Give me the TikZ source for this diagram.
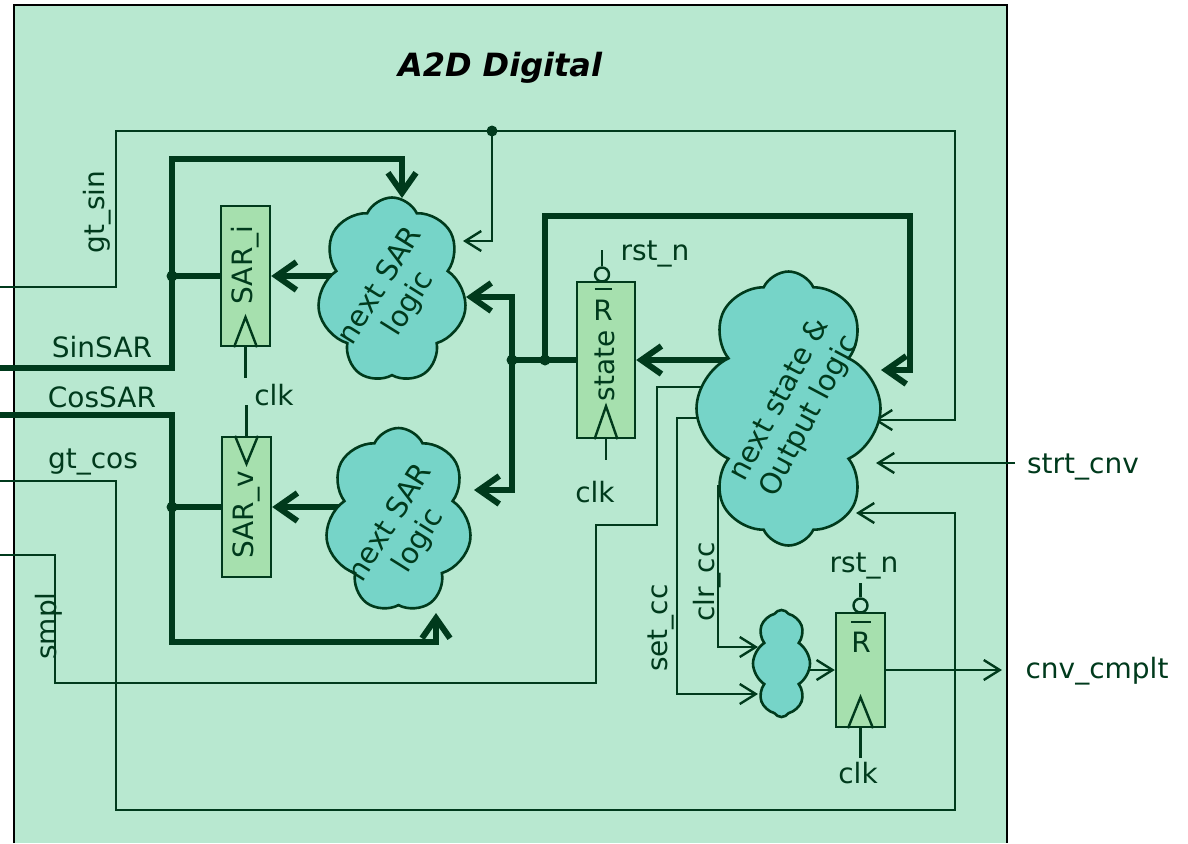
\documentclass[tikz,border=0pt]{standalone}
\usepackage{fontspec}
\setmainfont{DejaVu Sans}
\usetikzlibrary{arrows.meta,shapes.symbols,calc}
\definecolor{bg}{HTML}{B8E8D0}
\definecolor{regfill}{HTML}{A6E0AE}
\definecolor{cloudfill}{HTML}{76D4C8}
\definecolor{wire}{HTML}{003A1C}
\begin{document}
\begin{tikzpicture}[x=0.5pt,y=-0.5pt,
  wthin/.style={draw=wire,line width=1.2pt},
  wthick/.style={draw=wire,line width=3pt},
  tarr/.style={-{Straight Barb[length=8pt,width=10pt]}},
  Tarr/.style={-{Straight Barb[length=10pt,width=14pt]}},
  reg/.style={draw=wire,fill=regfill,line width=1.2pt,minimum width=24.5pt,minimum height=70pt,inner sep=0pt},
  cld/.style={cloud,cloud puffs=7,cloud puff arc=130,cloud ignores aspect,draw=wire,fill=cloudfill,line width=1.3pt,inner sep=0pt},
  lbl/.style={font=\fontsize{14}{17}\selectfont,text=wire,inner sep=0pt},
  ctext/.style={font=\fontsize{14.5}{17}\selectfont,text=wire,inner sep=0pt,align=center},
  jdot/.style={circle,fill=wire,inner sep=0pt,minimum size=5.5pt},
  bubble/.style={circle,draw=wire,fill=bg,line width=1.2pt,inner sep=0pt,minimum size=7pt},
  clockmark/.style={draw=wire,line width=1.2pt},
]
\useasboundingbox (0,0) rectangle (1188,843);
\fill[bg] (14,5) rectangle (1007,843);
\draw[black,line width=1.3pt] (14,843) -- (14,5) -- (1007,5) -- (1007,843);
\node[font=\fontsize{16}{18}\selectfont\bfseries\itshape,inner sep=0pt] (title) at (500,68) {A2D Digital};

% registers
\node[reg] (sari) at (245.5,276) {};
\node[reg] (sarv) at (246.5,507) {};
\node[reg,minimum width=29pt,minimum height=78pt] (state) at (606,360) {};
\node[reg,minimum height=57pt] (cff) at (860.5,670) {};
\node[lbl,rotate=90] (tsari) at (245,265) {SAR\_i};
\node[lbl,rotate=90] (tsarv) at (246,515) {SAR\_v};
\node[lbl,rotate=90] (tstate) at (605,366) {state};
\node[lbl] (rst1) at (603,310) {R};
\draw[clockmark] (594.5,289) -- (611.5,289);
\node[lbl] (rff) at (861,642) {R};
\draw[clockmark] (851,622) -- (871,622);

% clock marks
\draw[clockmark] ($(sari.south)+(-11.5,0)$) -- ($(sari.south)+(0,-30)$) -- ($(sari.south)+(11.5,0)$);
\draw[clockmark] ($(sarv.north)+(-11.5,0)$) -- ($(sarv.north)+(0,28)$) -- ($(sarv.north)+(11.5,0)$);
\draw[clockmark] ($(state.south)+(-11.5,0)$) -- ($(state.south)+(0,-33)$) -- ($(state.south)+(11.5,0)$);
\draw[clockmark] ($(cff.south)+(-12.5,0)$) -- ($(cff.south)+(0,-31)$) -- ($(cff.south)+(12.5,0)$);

% clocks and resets
\coordinate (ck1) at (245.5,378);
\coordinate (ck2) at (246.5,405);
\coordinate (ck3) at (606,460);
\coordinate (ck4) at (860.5,758);
\draw[wthin] (sari.south) -- (ck1);
\draw[wthin] (sarv.north) -- (ck2);
\draw[wthin] (state.south) -- (ck3);
\draw[wthin] (cff.south) -- (ck4);
\node[bubble] (b1) at (602,274.5) {};
\node[bubble] (b2) at (860.5,605.5) {};
\coordinate (r1) at (602,250);
\coordinate (r2) at (860.5,583);
\draw[wthin] (b1) -- (r1);
\draw[wthin] (b2) -- (r2);

% ports
\coordinate (cAtop) at (402,198);
\coordinate (cAgt) at (463,241);
\coordinate (cAst) at (466,297);
\coordinate (cAout) at (340,276);
\coordinate (cBbot) at (436,613);
\coordinate (cBst) at (474,490);
\coordinate (cBout) at (345,507);
\coordinate (cCout) at (730,360);
\coordinate (cCfb) at (881,370);
\coordinate (cCgs) at (874,420);
\coordinate (cCsc) at (876,463);
\coordinate (cCgc) at (856,513);
\coordinate (cCsm) at (725,387);
\coordinate (cCset) at (725,418);
\coordinate (cCclr) at (718,485);
\coordinate (cDclr) at (758,647);
\coordinate (cDset) at (758,694);
\coordinate (cDout) at (795,670);
\coordinate (inGs) at (0,287);
\coordinate (inSin) at (0,368);
\coordinate (inCos) at (0,415);
\coordinate (inGc) at (0,481);
\coordinate (inSm) at (0,555);
\coordinate (inStrt) at (1015,463);
\coordinate (outCnv) at (1002,670);

% junctions
\node[jdot] (jSin) at (172,276) {};
\node[jdot] (jCos) at (172,507) {};
\node[jdot] (jGs) at (492,131) {};
\node[jdot] (jSt1) at (512,360) {};
\node[jdot] (jSt2) at (545,360) {};

% thin wires
\draw[wthin,tarr] (inGs) -- (116,287) -- (116,131) -- (jGs.center) -- (955,131) -- (955,420) -- (cCgs);
\draw[wthin,tarr] (jGs.center) |- (cAgt);
\draw[wthin,tarr] (inGc) -- (116,481) -- (116,810) -- (955,810) -- (955,513) -- (cCgc);
\draw[wthin] (inSm) -- (55,555) -- (55,683) -- (596,683) -- (596,525) -- (657,525) -- (657,387) -- (cCsm);
\draw[wthin,tarr] (cCset) -- (677,418) -- (677,694) -- (cDset);
\draw[wthin,tarr] (cCclr) -- (718,647) -- (cDclr);
\draw[wthin,tarr] (cDout) -- (cff.west);
\draw[wthin,tarr] (cff.east) -- (outCnv);
\draw[wthin,tarr] (inStrt) -- (cCsc);

% thick wires
\draw[wthick,Tarr] (inSin) -- (172,368) -- (172,159) -- (402,159) -- (cAtop);
\draw[wthick] (jSin.center) -- (sari.west);
\draw[wthick,Tarr] (inCos) -- (172,415) -- (172,642) -- (436,642) -- (cBbot);
\draw[wthick] (jCos.center) -- (sarv.west);
\draw[wthick,Tarr] (cCout) -- (state.east);
\draw[wthick] (state.west) -- (jSt1.center);
\draw[wthick,Tarr] (jSt1.center) |- (cAst);
\draw[wthick,Tarr] (jSt1.center) |- (cBst);
\draw[wthick,Tarr] (jSt2.center) -- (545,216) -- (910,216) -- (910,370) -- (cCfb);
\draw[wthick,Tarr] (cAout) -- (sari.east);
\draw[wthick,Tarr] (cBout) -- (sarv.east);

% clouds (drawn over the wires)
\node[cld,minimum width=75pt,minimum height=92.5pt,shape border rotate=15] (cA) at (392,290) {};
\node[cld,minimum width=73.5pt,minimum height=92pt,shape border rotate=40] (cB) at (398.5,520) {};
\node[cld,cloud puffs=8,minimum width=92pt,minimum height=137pt,shape border rotate=10] (cC) at (788.5,408.5) {};
\node[cld,cloud puffs=8,cloud puff arc=115,minimum width=28.5pt,minimum height=53.5pt] (cD) at (781.5,663.5) {};
\node[ctext,rotate=58] (tA) at (395,295) {next SAR\\logic};
\node[ctext,rotate=58] (tB) at (405,532) {next SAR\\logic};
\node[ctext,rotate=62] (tC) at (795,408) {next state \&\\Output logic};

% labels
\node[lbl,rotate=90] (lgs) at (97,212) {gt\_sin};
\node[lbl,anchor=base] (lsin) at (102,357) {SinSAR};
\node[lbl,anchor=base] (lcos) at (102,407) {CosSAR};
\node[lbl,anchor=base] (lgc) at (93,468) {gt\_cos};
\node[lbl,rotate=90] (lsm) at (49,626) {smpl};
\node[lbl,anchor=base] (lck1) at (274,405) {clk};
\node[lbl,anchor=base] (lck2) at (595,502) {clk};
\node[lbl,anchor=base] (lck3) at (858,783) {clk};
\node[lbl,anchor=base] (lr1) at (655,260) {rst\_n};
\node[lbl,anchor=base] (lr2) at (864,572) {rst\_n};
\node[lbl,rotate=90] (lset) at (661,628) {set\_cc};
\node[lbl,rotate=90] (lclr) at (707,582) {clr\_cc};
\node[lbl,anchor=base] (lstrt) at (1083,473) {strt\_cnv};
\node[lbl,anchor=base] (lcnv) at (1097,678) {cnv\_cmplt};
\end{tikzpicture}
\end{document}
